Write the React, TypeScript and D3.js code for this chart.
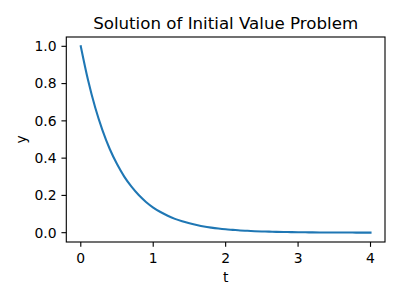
import React from "react";
import * as d3 from "d3";

const tValues = [0, 0.1, 0.2, 0.3, 0.4, 0.5, 0.6, 0.7, 0.8, 0.9, 1.0, 1.1, 1.2, 1.3, 1.4, 1.5, 1.6, 1.7, 1.8, 1.9, 2.0, 2.1, 2.2, 2.3, 2.4, 2.5, 2.6, 2.7, 2.8, 2.9, 3.0, 3.1, 3.2, 3.3, 3.4, 3.5, 3.6, 3.7, 3.8, 3.9, 4.0];
const yValues = [1.0, 0.819, 0.670, 0.549, 0.449, 0.368, 0.301, 0.247, 0.202, 0.165, 0.135, 0.111, 0.091, 0.074, 0.061, 0.050, 0.041, 0.033, 0.027, 0.022, 0.018, 0.015, 0.012, 0.010, 0.008, 0.0067, 0.0055, 0.0045, 0.0037, 0.0030, 0.0025, 0.0020, 0.0017, 0.0014, 0.0011, 0.0009, 0.0007, 0.0006, 0.0005, 0.0004, 0.0003];
const xTicks = [0, 1, 2, 3, 4];
const yTicks = [0.0, 0.2, 0.4, 0.6, 0.8, 1.0];
const title = "Solution of Initial Value Problem";
const xLabel = "t";
const yLabel = "y";

export default function App() {
  const W = 400, H = 300;
  const left = 66.3, right = 385, top = 37, bottom = 242;
  const x = d3.scaleLinear().domain([-0.2, 4.2]).range([left, right]);
  const y = d3.scaleLinear().domain([-0.05, 1.05]).range([bottom, top]);
  const pts = tValues.map((t, i) => [t, yValues[i]] as [number, number]);
  const line = d3.line<[number, number]>().x(d => x(d[0])).y(d => y(d[1])).curve(d3.curveMonotoneX);
  const font = "DejaVu Sans, sans-serif";
  const tickLen = 4.86;
  return (
    <div style={{ position: "fixed", left: 0, top: 0 }}>
      <svg width={W} height={H} style={{ display: "block", background: "#fff" }} fontFamily={font}>
        <rect x={0} y={0} width={W} height={H} fill="#fff" />
        <path d={line(pts) || ""} fill="none" stroke="#1f77b4" strokeWidth={2.08} strokeLinejoin="round" strokeLinecap="square" />
        <rect x={left} y={top} width={right - left} height={bottom - top} fill="none" stroke="#000" strokeWidth={1.11} />
        {xTicks.map(t => (
          <g key={"x" + t}>
            <line x1={x(t)} x2={x(t)} y1={bottom} y2={bottom + tickLen} stroke="#000" strokeWidth={1.11} />
            <text x={x(t)} y={bottom + tickLen + 4.86 + 11} textAnchor="middle" fontSize={13.9} fill="#000">{t}</text>
          </g>
        ))}
        {yTicks.map(v => (
          <g key={"y" + v}>
            <line x1={left - tickLen} x2={left} y1={y(v)} y2={y(v)} stroke="#000" strokeWidth={1.11} />
            <text x={left - tickLen - 4.86} y={y(v)} dy="0.35em" textAnchor="end" fontSize={13.9} fill="#000">{v.toFixed(1)}</text>
          </g>
        ))}
        <text x={(left + right) / 2} y={28.5} textAnchor="middle" fontSize={16.67} fill="#000">{title}</text>
        <text x={(left + right) / 2} y={282} textAnchor="middle" fontSize={13.9} fill="#000">{xLabel}</text>
        <text transform={`translate(26,${(top + bottom) / 2}) rotate(-90)`} textAnchor="middle" fontSize={13.9} fill="#000">{yLabel}</text>
      </svg>
    </div>
  );
}
